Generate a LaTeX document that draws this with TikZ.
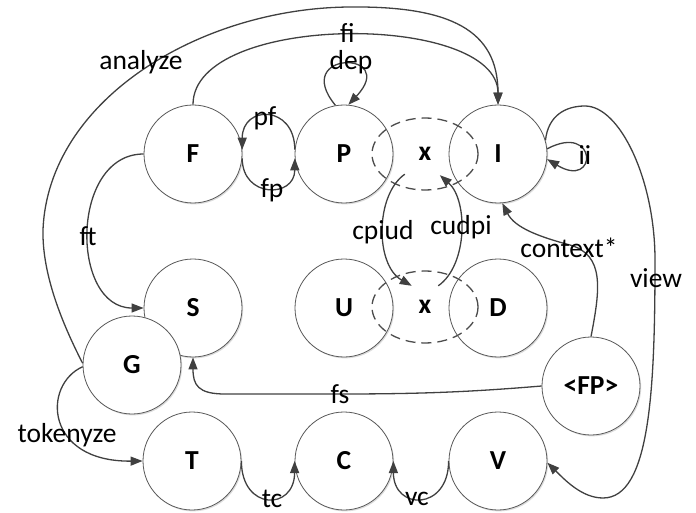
\documentclass[tikz,border=0pt]{standalone}
\usepackage{fontspec}
\setmainfont{Carlito}
\usetikzlibrary{arrows.meta,shapes.geometric,shadows}

\begin{document}
\fontsize{27.5}{33}\selectfont
\begin{tikzpicture}[x=1pt,y=1pt,
  state/.style={circle, draw=black!65, line width=0.8pt, fill=white,
    minimum size=98pt, inner sep=0pt, font=\bfseries,
    drop shadow={shadow xshift=1.2pt, shadow yshift=-1.4pt, opacity=0.3, fill=black!45}},
  merge/.style={ellipse, draw=black!70, dash pattern=on 10pt off 6pt,
    line width=1.3pt, minimum width=106pt, minimum height=72pt, inner sep=0pt},
  tag/.style={rectangle, minimum width=40pt, minimum height=42pt, inner sep=0pt, font=\bfseries},
  link/.style={draw=black!75, line width=1.3pt, -{Triangle[length=12pt,width=9pt]}},
  lbl/.style={anchor=base, inner sep=0pt}]

\useasboundingbox (0,0) rectangle (696,-513);

% states
\node[state] (F) at (193,-154) {F};
\node[state] (P) at (344,-154) {P};
\node[state] (I) at (498,-154) {I};
\node[state] (S) at (193,-308) {S};
\node[state] (U) at (344,-308) {U};
\node[state] (D) at (498,-308) {D};
\node[state] (G) at (132,-365) {G};
\node[state] (T) at (192,-461) {T};
\node[state] (C) at (344,-461) {C};
\node[state] (V) at (498,-461) {V};
\node[state] (FP) at (591,-386) {<FP>};

% product states (dashed)
\node[merge] (e1) at (425,-154) {};
\node[merge] (e2) at (425,-307) {};
\node[tag] (x1) at (425,-154) {x};
\node[tag] (x2) at (425,-307) {x};

% transitions
\draw[link] (G.178) .. controls (63,-325) and (42,-275) .. (43,-230)
  .. controls (48,-100) and (200,-8) .. (350,-7)
  .. controls (450,-6) and (498,-30) .. (I.north);
\draw[link] (F.north) .. controls (193,-12) and (498,-12) .. (I.north);
\draw[link] (P.100) .. controls (290,-50) and (400,-50) .. (P.85);
\draw[link] (P.175) .. controls +(0,45) and +(0,45) .. (F.5);
\draw[link] (F.-5) .. controls +(0,-40) and +(0,-40) .. (P.-175);
\draw[link] (F.west) .. controls (70,-154) and (70,-308) .. (S.west);
\draw[link] (G.182) .. controls (42,-385) and (45,-462) .. (T.west);
\draw[link] (FP.west) .. controls (470,-392) and (420,-394) .. (340,-394) -- (225,-394)
  .. controls (198,-394) and (193,-385) .. (S.south);
\draw[link] (T.east) .. controls +(0,-50) and +(0,-50) .. (C.west);
\draw[link] (V.west) .. controls +(0,-50) and +(0,-50) .. (C.east);
\draw[link] (x1.-135) .. controls (375,-195) and (375,-265) .. (x2.122);
\draw[link] (x2.58) .. controls (468,-265) and (468,-200) .. (x1.-55);
\draw[link] (I.6) .. controls (598,-122) and (598,-190) .. (I.-6);
\draw[link] (I.16) .. controls (548,-116) and (565,-106) .. (585,-106)
  .. controls (620,-106) and (655,-180) .. (655,-260)
  .. controls (655,-390) and (650,-498) .. (603,-498)
  .. controls (582,-498) and (565,-480) .. (V.-2);
\draw[link] (FP.north) .. controls (600,-290) and (605,-255) .. (570,-245)
  .. controls (540,-237) and (515,-228) .. (I.-85);

% transition labels
\node[lbl] (t-analyze) at (141,-70) {analyze};
\node[lbl] (t-fi) at (347.5,-43) {fi};
\node[lbl] (t-dep) at (351,-70) {dep};
\node[lbl] (t-pf) at (265,-126) {pf};
\node[lbl] (t-fp) at (272,-198) {fp};
\node[lbl] (t-ft) at (88,-245) {ft};
\node[lbl] (t-tok) at (67,-442) {tokenyze};
\node[lbl] (t-fs) at (340,-403) {fs};
\node[lbl] (t-tc) at (272,-507) {tc};
\node[lbl] (t-vc) at (417,-505) {vc};
\node[lbl] (t-view) at (656,-287) {view};
\node[lbl] (t-ctx) at (569,-258) {context*};
\node[lbl] (t-ii) at (585,-165) {ii};
\node[lbl] (t-cpiud) at (383,-240) {cpiud};
\node[lbl] (t-cudpi) at (461,-235) {cudpi};
\end{tikzpicture}
\end{document}
